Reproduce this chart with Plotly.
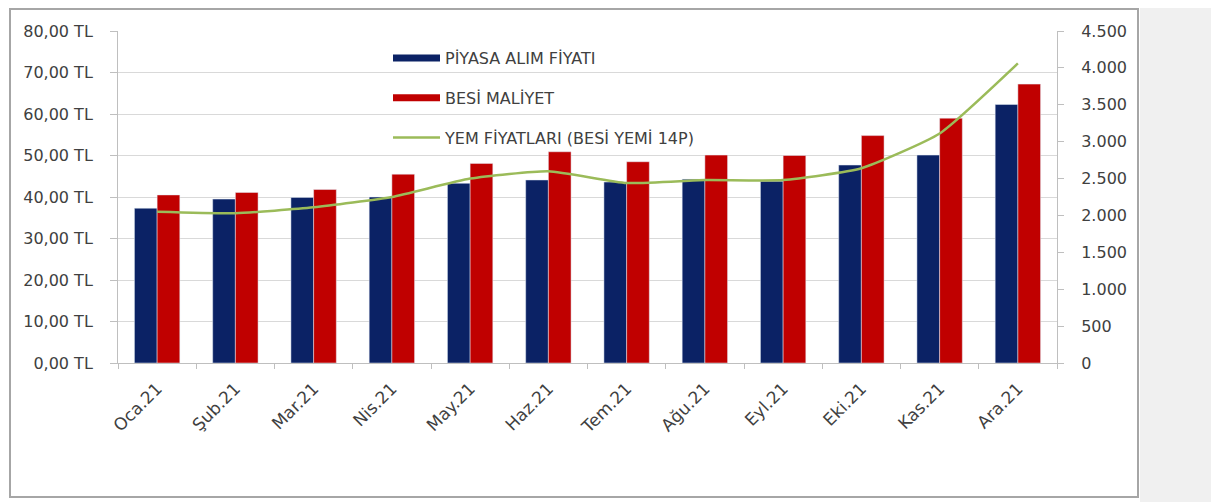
import plotly.graph_objects as go

months = ["Oca.21", "Şub.21", "Mar.21", "Nis.21", "May.21", "Haz.21",
          "Tem.21", "Ağu.21", "Eyl.21", "Eki.21", "Kas.21", "Ara.21"]
piyasa_alim = [37.3, 39.5, 39.9, 40.0, 43.3, 44.1, 43.6, 44.3, 43.8, 47.7, 50.1, 62.3]
besi_maliyet = [40.5, 41.1, 41.8, 45.5, 48.1, 50.9, 48.5, 50.1, 50.0, 54.8, 59.0, 67.2]
yem_fiyat = [2050, 2030, 2110, 2250, 2500, 2600, 2440, 2480, 2480, 2640, 3110, 4060]

names = ["PİYASA ALIM FİYATI", "BESİ MALİYET", "YEM FİYATLARI (BESİ YEMİ 14P)"]
BLUE = "#0b2265"
RED = "#c00000"
GREEN = "#9bbb59"
TXT = "#404040"
FONT = "DejaVu Sans"

fig = go.Figure()
fig.add_trace(go.Bar(x=months, y=piyasa_alim, name=names[0], marker_color=BLUE,
                     showlegend=False))
fig.add_trace(go.Bar(x=months, y=besi_maliyet, name=names[1], marker_color=RED,
                     showlegend=False))
fig.add_trace(go.Scatter(x=months, y=yem_fiyat, name=names[2], yaxis="y2",
                         mode="lines", line=dict(color=GREEN, width=2.5, shape="spline",
                                                 smoothing=0.5),
                         showlegend=False))
# legend entries
for nm, col, w, g in [(names[0], BLUE, 7, "a"), (names[1], RED, 7, "b"), (names[2], GREEN, 2.5, "c")]:
    fig.add_trace(go.Scatter(x=[None], y=[None], name=nm, mode="lines",
                             line=dict(color=col, width=w), legendgroup=g,
                             showlegend=True))

OFF = 8  # page body margin
W, H = 1219 - OFF, 502 - OFF
# plot area in reference page pixels
L, R, T, B = 118, 1057, 31, 363
pw, ph = R - L, B - T

def px(x):
    return (x - L) / pw

def py(y):
    return (B - y) / ph

fig.update_layout(
    width=W, height=H,
    margin=dict(l=L - OFF, r=W - (R - OFF), t=T - OFF, b=H - (B - OFF)),
    paper_bgcolor="white", plot_bgcolor="white",
    separators=",.",
    barmode="group", bargap=0.42, bargroupgap=0,
    font=dict(family=FONT, size=15, color=TXT),
    xaxis=dict(type="category", tickangle=-45, showgrid=False,
               showline=True, linecolor="#bfbfbf", linewidth=1,
               ticks="outside", ticklen=5, tickcolor="#bfbfbf", tickson="boundaries",
               ticklabelstandoff=8,
               tickfont=dict(family=FONT, size=17, color=TXT)),
    yaxis=dict(range=[0, 80], dtick=10, tickformat=".2f", ticksuffix=" TL",
               showgrid=True, gridcolor="#d9d9d9", gridwidth=1,
               showline=True, linecolor="#bfbfbf", zeroline=False,
               ticks="outside", ticklen=7, tickcolor="#bfbfbf",
               ticklabelstandoff=14,
               tickfont=dict(family=FONT, size=16, color=TXT)),
    yaxis2=dict(range=[0, 4500], dtick=500, tickformat=",d", overlaying="y", side="right",
                showgrid=False, showline=True, linecolor="#bfbfbf", zeroline=False,
                ticks="outside", ticklen=6, tickcolor="#bfbfbf",
                ticklabelstandoff=14,
                tickfont=dict(family=FONT, size=16, color=TXT)),
    legend=dict(x=px(388), y=py(41), xanchor="left", yanchor="top",
                bgcolor="rgba(0,0,0,0)", tracegroupgap=16, itemwidth=47,
                font=dict(family=FONT, size=16, color=TXT)),
    shapes=[
        dict(type="rect", xref="paper", yref="paper",
             x0=px(1140), x1=px(1240), y0=py(520), y1=py(-20),
             fillcolor="#f0f0f0", line=dict(width=0), layer="below"),
        dict(type="rect", xref="paper", yref="paper",
             x0=px(10), x1=px(1138), y0=py(497), y1=py(9),
             fillcolor="rgba(0,0,0,0)", line=dict(color="#a6a6a6", width=2), layer="below"),
    ],
)

fig.write_html("out.html")
